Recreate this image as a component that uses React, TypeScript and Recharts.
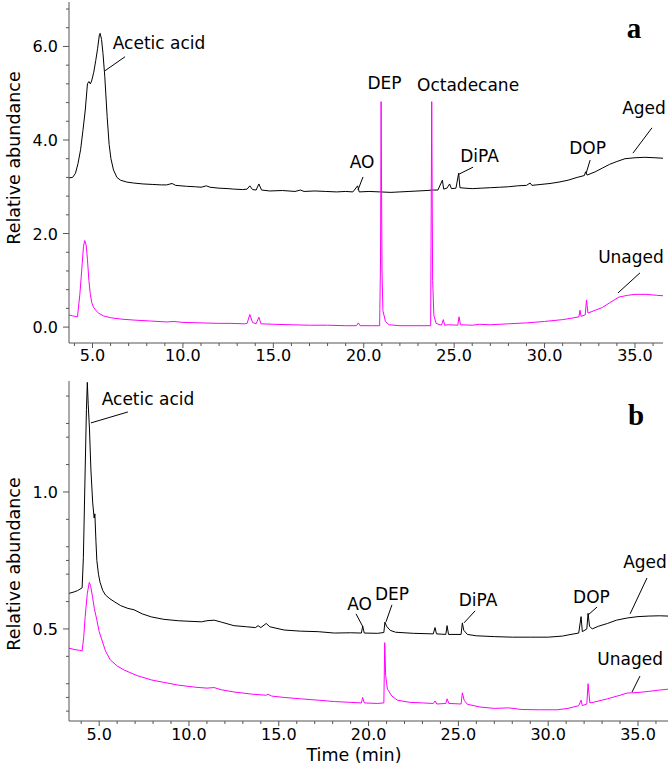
import { LineChart, Line, XAxis, YAxis, ReferenceLine, ReferenceDot, Label } from 'recharts';

const FONT = '"DejaVu Sans", Arial, sans-serif';
const AGED = '#000000';
const UNAGED = '#ff00ff';
const FRAME = '#555555';

// panel a: [time (min), relative abundance]
const aAged: [number, number][] = [
  [3.7, 3.19], [3.9, 3.2], [4.06, 3.29], [4.2, 3.5], [4.34, 3.79], [4.47, 4.2], [4.6, 4.64], [4.72, 5.2],
  [4.8, 5.25], [4.88, 5.2], [4.95, 5.26], [5.07, 5.45], [5.18, 5.7], [5.28, 5.95], [5.38, 6.25], [5.42, 6.28],
  [5.5, 6.15], [5.58, 5.85], [5.68, 5.35], [5.81, 4.5], [5.92, 3.9], [6.02, 3.6], [6.16, 3.36], [6.35, 3.2],
  [6.55, 3.14], [6.9, 3.1], [7.27, 3.08], [7.8, 3.06], [8.3, 3.05], [8.8, 3.04], [9.1, 3.04], [9.4, 3.07],
  [9.6, 3.03], [10.2, 3.01], [10.7, 3.0], [11.0, 2.99], [11.3, 3.02], [11.5, 2.99], [12.0, 2.97], [12.5, 2.96],
  [12.8, 2.95], [13.3, 2.94], [13.55, 2.95], [13.7, 3.02], [13.85, 2.94], [14.05, 2.93], [14.2, 3.06], [14.35, 2.93],
  [14.8, 2.91], [15.5, 2.92], [16.2, 2.9], [16.5, 2.93], [16.7, 2.9], [17.3, 2.91], [17.9, 2.9], [18.5, 2.89],
  [19.0, 2.9], [19.4, 2.89], [19.66, 3.02], [19.75, 2.89], [20.3, 2.9], [20.9, 2.89], [21.5, 2.88], [22.0, 2.89],
  [22.5, 2.9], [23.0, 2.91], [23.5, 2.92], [23.8, 2.93], [24.1, 2.93], [24.35, 3.14], [24.42, 2.95], [24.6, 2.97],
  [24.75, 3.06], [24.85, 2.96], [25.1, 2.97], [25.25, 3.29], [25.32, 2.98], [25.6, 2.97], [26.0, 2.96], [26.5, 2.97],
  [27.0, 2.98], [27.5, 2.99], [28.0, 3.0], [28.5, 3.02], [29.0, 3.03], [29.2, 3.08], [29.3, 3.03], [29.8, 3.05],
  [30.3, 3.07], [30.8, 3.1], [31.3, 3.14], [31.8, 3.2], [32.2, 3.24], [32.27, 3.32], [32.35, 3.25], [32.8, 3.32],
  [33.2, 3.4], [33.6, 3.48], [34.0, 3.54], [34.45, 3.6], [35.0, 3.62], [35.55, 3.63], [36.1, 3.62], [36.55, 3.61],
];

const aUnaged: [number, number][] = [
  [3.7, 0.26], [3.9, 0.24], [4.17, 0.22], [4.3, 0.7], [4.4, 1.2], [4.5, 1.72], [4.57, 1.85], [4.65, 1.75],
  [4.72, 1.45], [4.8, 1.0], [4.88, 0.7], [4.96, 0.52], [5.05, 0.43], [5.2, 0.35], [5.33, 0.3], [5.6, 0.24],
  [6.0, 0.2], [6.6, 0.17], [7.3, 0.15], [8.2, 0.13], [9.1, 0.11], [9.5, 0.12], [10.0, 0.1], [11.0, 0.09],
  [11.9, 0.08], [12.6, 0.08], [13.4, 0.07], [13.55, 0.08], [13.7, 0.27], [13.85, 0.1], [14.05, 0.07], [14.2, 0.21],
  [14.32, 0.07], [15.0, 0.06], [16.0, 0.05], [17.0, 0.04], [18.0, 0.04], [19.0, 0.03], [19.6, 0.03], [19.7, 0.09],
  [19.8, 0.03], [20.5, 0.03], [20.88, 0.03], [20.93, 1.5], [20.96, 4.82], [21.01, 1.2], [21.06, 0.35], [21.2, 0.12],
  [21.4, 0.05], [22.0, 0.03], [23.0, 0.03], [23.7, 0.03], [23.76, 4.82], [23.81, 1.0], [23.88, 0.25], [24.0, 0.08],
  [24.3, 0.04], [24.4, 0.16], [24.48, 0.04], [24.7, 0.05], [25.2, 0.04], [25.27, 0.22], [25.35, 0.05], [26.0, 0.04],
  [26.4, 0.06], [27.0, 0.05], [28.0, 0.07], [29.0, 0.09], [30.0, 0.12], [31.0, 0.16], [31.5, 0.19], [31.9, 0.22],
  [31.96, 0.36], [32.02, 0.23], [32.25, 0.26], [32.32, 0.58], [32.4, 0.3], [32.8, 0.36], [33.2, 0.42], [33.6, 0.52],
  [34.1, 0.64], [34.6, 0.68], [35.0, 0.7], [35.6, 0.7], [36.2, 0.68], [36.55, 0.67],
];

// panel b
const bAged: [number, number][] = [
  [3.32, 0.63], [3.6, 0.635], [3.8, 0.64], [4.05, 0.65], [4.12, 0.76], [4.22, 1.08], [4.29, 1.3], [4.34, 1.4],
  [4.39, 1.32], [4.46, 1.23], [4.54, 1.08], [4.64, 0.96], [4.72, 0.905], [4.76, 0.92], [4.82, 0.82], [4.87, 0.75],
  [4.96, 0.7], [5.05, 0.67], [5.2, 0.64], [5.35, 0.624], [5.6, 0.61], [5.83, 0.6], [6.2, 0.585], [6.6, 0.575],
  [6.94, 0.57], [7.4, 0.555], [7.9, 0.544], [8.6, 0.535], [9.4, 0.53], [10.0, 0.528], [10.7, 0.526], [11.0, 0.53],
  [11.4, 0.532], [11.8, 0.525], [12.5, 0.512], [13.2, 0.508], [13.7, 0.505], [13.85, 0.512], [14.0, 0.505], [14.3, 0.52],
  [14.5, 0.508], [15.3, 0.496], [16.2, 0.492], [17.2, 0.49], [18.1, 0.485], [19.0, 0.486], [19.6, 0.485], [19.67, 0.51],
  [19.76, 0.485], [20.5, 0.484], [20.85, 0.487], [20.91, 0.525], [21.0, 0.51], [21.2, 0.495], [21.5, 0.488], [22.5, 0.484],
  [23.6, 0.482], [23.7, 0.505], [23.78, 0.482], [24.3, 0.48], [24.37, 0.512], [24.45, 0.48], [25.15, 0.48], [25.22, 0.522],
  [25.3, 0.495], [25.5, 0.48], [26.0, 0.475], [27.0, 0.472], [28.0, 0.47], [29.0, 0.47], [30.0, 0.47], [30.8, 0.474],
  [31.1, 0.478], [31.7, 0.485], [31.83, 0.545], [31.9, 0.49], [32.15, 0.5], [32.22, 0.557], [32.3, 0.51], [32.45, 0.5],
  [32.8, 0.51], [33.3, 0.52], [33.8, 0.532], [34.4, 0.54], [35.0, 0.545], [35.6, 0.547], [36.2, 0.548], [36.67, 0.547],
];

const bUnaged: [number, number][] = [
  [3.32, 0.43], [3.6, 0.425], [3.9, 0.422], [4.05, 0.42], [4.14, 0.47], [4.22, 0.545], [4.34, 0.63], [4.45, 0.67],
  [4.53, 0.655], [4.63, 0.617], [4.73, 0.575], [4.87, 0.533], [5.0, 0.49], [5.15, 0.46], [5.35, 0.42], [5.62, 0.387],
  [6.0, 0.365], [6.39, 0.35], [7.1, 0.33], [7.9, 0.314], [8.6, 0.305], [9.4, 0.295], [10.4, 0.287], [11.0, 0.284],
  [11.4, 0.286], [11.8, 0.278], [12.5, 0.27], [13.5, 0.262], [14.3, 0.258], [14.4, 0.262], [14.6, 0.255], [15.3, 0.25],
  [16.2, 0.245], [17.2, 0.24], [18.1, 0.235], [19.0, 0.232], [19.6, 0.23], [19.67, 0.25], [19.76, 0.23], [20.5, 0.228],
  [20.85, 0.23], [20.9, 0.45], [20.95, 0.33], [21.05, 0.28], [21.3, 0.255], [21.6, 0.24], [22.3, 0.232], [23.0, 0.23],
  [23.6, 0.228], [23.7, 0.237], [23.8, 0.226], [24.3, 0.228], [24.37, 0.245], [24.47, 0.228], [25.15, 0.226], [25.22, 0.267],
  [25.32, 0.24], [25.5, 0.225], [26.2, 0.215], [27.0, 0.21], [27.8, 0.212], [28.5, 0.206], [29.5, 0.205], [30.5, 0.205],
  [31.1, 0.21], [31.7, 0.22], [31.83, 0.24], [31.9, 0.22], [32.15, 0.226], [32.22, 0.3], [32.32, 0.23], [32.5, 0.232],
  [33.3, 0.245], [34.0, 0.258], [34.4, 0.266], [35.0, 0.268], [35.6, 0.272], [36.2, 0.277], [36.67, 0.28],
];

const xTicks = [4, 5, 6, 7, 8, 9, 10, 11, 12, 13, 14, 15, 16, 17, 18, 19, 20, 21, 22, 23, 24, 25, 26, 27, 28, 29, 30, 31, 32, 33, 34, 35, 36];
const xMajor = [5, 10, 15, 20, 25, 30, 35];
const aYTicks = [0, 0.4, 0.8, 1.2, 1.6, 2, 2.4, 2.8, 3.2, 3.6, 4, 4.4, 4.8, 5.2, 5.6, 6, 6.4, 6.8];
const aYMajor = [0, 2, 4, 6];
const bYTicks = [0.2, 0.25, 0.3, 0.4, 0.5, 0.6, 0.7, 0.75, 0.8, 0.9, 1.0, 1.1, 1.2, 1.25, 1.35];
const bYMajor = [0.5, 1.0];

type Note = { text: string; at: [number, number]; line?: [[number, number], [number, number]] };

const aNotes: Note[] = [
  { text: 'Acetic acid', at: [8.68, 6.07], line: [[6.8, 5.78], [5.69, 5.48]] },
  { text: 'DEP', at: [21.15, 5.22] },
  { text: 'Octadecane', at: [25.77, 5.18] },
  { text: 'AO', at: [19.91, 3.53], line: [[19.96, 3.21], [19.68, 2.93]] },
  { text: 'DiPA', at: [26.4, 3.66], line: [[26.05, 3.42], [25.27, 3.27]] },
  { text: 'DOP', at: [32.38, 3.83], line: [[32.52, 3.57], [32.3, 3.29]] },
  { text: 'Aged', at: [35.5, 4.68], line: [[35.94, 4.26], [34.89, 3.72]] },
  { text: 'Unaged', at: [34.78, 1.5], line: [[35.28, 1.16], [34.06, 0.73]] },
];

const bNotes: Note[] = [
  { text: 'Acetic acid', at: [7.72, 1.339], line: [[6.6, 1.292], [4.54, 1.252]] },
  { text: 'AO', at: [19.5, 0.591], line: [[19.3, 0.555], [19.69, 0.507]] },
  { text: 'DEP', at: [21.3, 0.628], line: [[21.3, 0.588], [20.97, 0.526]] },
  { text: 'DiPA', at: [26.09, 0.606], line: [[25.93, 0.566], [25.31, 0.522]] },
  { text: 'DOP', at: [32.41, 0.617], line: [[32.72, 0.58], [32.22, 0.551]] },
  { text: 'Aged', at: [35.39, 0.745], line: [[35.5, 0.686], [34.56, 0.555]] },
  { text: 'Unaged', at: [34.56, 0.391], line: [[35.11, 0.328], [34.67, 0.27]] },
];

const toRows = (pts: [number, number][]) => pts.map(([t, v]) => ({ t, v }));
const isMajor = (list: number[], v: number) => list.some((m) => Math.abs(m - v) < 1e-6);

function XTick(props: any) {
  const { x, y, payload, labelDy } = props;
  const major = isMajor(xMajor, payload.value);
  return (
    <g>
      <line x1={x} x2={x} y1={y} y2={y + (major ? 5 : 3)} stroke={FRAME} />
      {major && (
        <text x={x} y={y + labelDy} textAnchor="middle" fontSize={16} fontFamily={FONT} fill="#000">
          {payload.value.toFixed(1)}
        </text>
      )}
    </g>
  );
}

function YTick(props: any) {
  const { x, y, payload, majors } = props;
  const major = isMajor(majors, payload.value);
  return (
    <g>
      <line x1={x - (major ? 6 : 3)} x2={x} y1={y} y2={y} stroke={FRAME} />
      {major && (
        <text x={x - 11} y={y + 6} textAnchor="end" fontSize={16} fontFamily={FONT} fill="#000">
          {payload.value.toFixed(1)}
        </text>
      )}
    </g>
  );
}

interface PanelProps {
  aged: [number, number][];
  unaged: [number, number][];
  xDomain: [number, number];
  yDomain: [number, number];
  yTicks: number[];
  yMajor: number[];
  notes: Note[];
  letter: string;
  letterAt: [number, number];
  top: number;
  height: number;
  margin: { top: number; right: number; bottom: number; left: number };
  xAxisHeight: number;
  labelDy: number;
  yTitleY: number;
  xTitle?: { x: number; y: number };
}

function Panel(p: PanelProps) {
  return (
    <div style={{ position: 'absolute', left: 0, top: p.top }}>
      <LineChart width={670} height={p.height} margin={p.margin}>
        <XAxis
          dataKey="t"
          type="number"
          domain={p.xDomain}
          allowDataOverflow
          ticks={xTicks}
          interval={0}
          height={p.xAxisHeight}
          tickSize={0}
          tickMargin={0}
          tickLine={false}
          axisLine={{ stroke: FRAME }}
          tick={(tp: any) => <XTick {...tp} labelDy={p.labelDy} />}
        >
          {p.xTitle && (
            <Label
              content={() => (
                <text x={p.xTitle!.x} y={p.xTitle!.y} textAnchor="middle" fontSize={17.5} fontFamily={FONT} fill="#000">
                  Time (min)
                </text>
              )}
            />
          )}
        </XAxis>
        <XAxis xAxisId="top" orientation="top" type="number" domain={p.xDomain} allowDataOverflow height={0} tick={false} tickLine={false} axisLine={{ stroke: FRAME }} />
        <YAxis
          type="number"
          domain={p.yDomain}
          allowDataOverflow
          ticks={p.yTicks}
          interval={0}
          width={69}
          tickSize={0}
          tickMargin={0}
          tickLine={false}
          axisLine={{ stroke: FRAME }}
          tick={(tp: any) => <YTick {...tp} majors={p.yMajor} />}
        >
          <Label
            content={() => (
              <text x={20} y={p.yTitleY} transform={`rotate(-90 20 ${p.yTitleY})`} textAnchor="middle" fontSize={17.5} fontFamily={FONT} fill="#000">
                Relative abundance
              </text>
            )}
          />
        </YAxis>
        <YAxis yAxisId="right" orientation="right" type="number" domain={p.yDomain} allowDataOverflow width={0} tick={false} tickLine={false} axisLine={{ stroke: FRAME }} />

        <Line data={toRows(p.aged)} dataKey="v" type="linear" stroke={AGED} strokeWidth={1} dot={false} isAnimationActive={false} />
        <Line data={toRows(p.unaged)} dataKey="v" type="linear" stroke={UNAGED} strokeWidth={1} dot={false} isAnimationActive={false} />

        {p.notes.filter((n) => n.line).map((n) => (
          <ReferenceLine
            key={`l-${n.text}`}
            segment={[{ x: n.line![0][0], y: n.line![0][1] }, { x: n.line![1][0], y: n.line![1][1] }]}
            stroke="#000"
            strokeWidth={1}
            ifOverflow="visible"
          />
        ))}
        {p.notes.map((n) => (
          <ReferenceDot
            key={`t-${n.text}`}
            x={n.at[0]}
            y={n.at[1]}
            r={0}
            fill="none"
            stroke="none"
            ifOverflow="visible"
            label={{ value: n.text, position: 'center', fill: '#000', fontSize: 17, fontFamily: FONT }}
          />
        ))}
        <ReferenceDot
          x={p.letterAt[0]}
          y={p.letterAt[1]}
          r={0}
          fill="none"
          stroke="none"
          ifOverflow="visible"
          label={{ value: p.letter, position: 'center', fill: '#000', fontSize: 29, fontWeight: 'bold', fontFamily: '"Liberation Serif", "Times New Roman", serif' }}
        />
      </LineChart>
    </div>
  );
}

export default function App() {
  return (
    <div style={{ position: 'absolute', left: 0, top: 0, width: 670, height: 769, background: '#fff', fontFamily: FONT }}>
      <Panel
        aged={aAged}
        unaged={aUnaged}
        xDomain={[3.7, 36.55]}
        yDomain={[-0.34, 6.95]}
        yTicks={aYTicks}
        yMajor={aYMajor}
        notes={aNotes}
        letter="a"
        letterAt={[34.95, 6.4]}
        top={0}
        height={370}
        margin={{ top: 2, right: 7, bottom: 0, left: 0 }}
        xAxisHeight={27}
        labelDy={18}
        yTitleY={158}
      />
      <Panel
        aged={bAged}
        unaged={bUnaged}
        xDomain={[3.32, 36.67]}
        yDomain={[0.164, 1.405]}
        yTicks={bYTicks}
        yMajor={bYMajor}
        notes={bNotes}
        letter="b"
        letterAt={[34.89, 1.281]}
        top={370}
        height={399}
        margin={{ top: 11, right: 2, bottom: 0, left: 0 }}
        xAxisHeight={48}
        labelDy={19}
        yTitleY={194}
        xTitle={{ x: 354, y: 391 }}
      />
    </div>
  );
}
